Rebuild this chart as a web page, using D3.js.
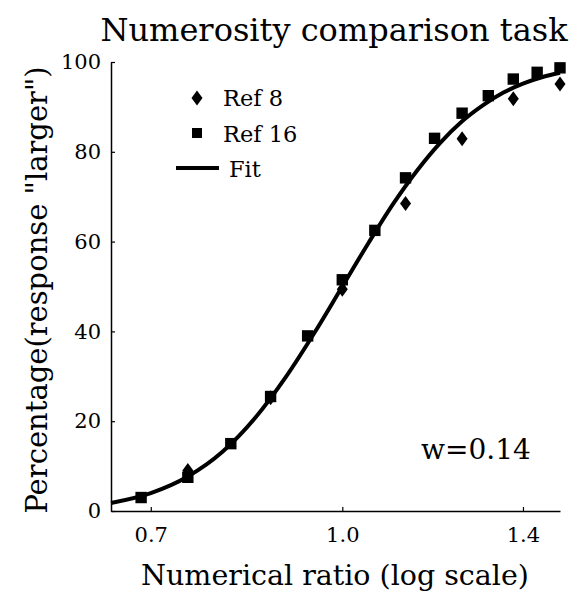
<!DOCTYPE html>
<html>
<head>
<meta charset="utf-8">
<script src="https://cdn.jsdelivr.net/npm/d3@7"></script>
<style>
  body { margin: 0; background: #fff; }
  svg { display: block; }
  text { font-family: "DejaVu Serif", serif; fill: #000; }
</style>
</head>
<body>
<svg id="chart" width="577" height="592"></svg>
<script>
// ratios (n / ref)
var ref16Ratios = [11/16, 12/16, 13/16, 14/16, 15/16, 16/16, 17/16, 18/16, 19/16, 20/16, 21/16, 22/16, 23/16, 24/16];
var ref16Values = [3, 7.5, 15, 25.5, 39, 51.5, 62.5, 74.2, 83, 88.6, 92.5, 96.2, 97.7, 98.7];

var ref8Ratios = [6/8, 7/8, 8/8, 9/8, 10/8, 11/8, 12/8];
var ref8Values = [9, 25.2, 49.4, 68.5, 82.9, 91.8, 95.1];

// fitted curve
var fitRatios = [0.65, 0.7, 0.75, 0.8, 0.85, 0.9, 0.95, 1.0, 1.05, 1.1, 1.15, 1.2, 1.25, 1.3, 1.35, 1.4, 1.45, 1.5];
var fitValues = [1.8, 4.0, 7.7, 13.2, 20.7, 29.8, 39.8, 50, 59.7, 68.5, 75.9, 82.0, 86.8, 90.4, 93.2, 95.2, 96.6, 97.6];

var xTicks = [0.7, 1.0, 1.4];
var yTicks = [0, 20, 40, 60, 80, 100];

var svg = d3.select("#chart");

var x = d3.scaleLog().domain([0.65, 1.5]).range([111, 560]);
var y = d3.scaleLinear().domain([0, 100]).range([511, 62]);

// axes
var xAxis = d3.axisBottom(x)
    .tickValues(xTicks)
    .tickFormat(d3.format(".1f"))
    .tickSizeInner(-4)
    .tickSizeOuter(0)
    .tickPadding(16);

var yAxis = d3.axisLeft(y)
    .tickValues(yTicks)
    .tickSizeInner(-4)
    .tickSizeOuter(0)
    .tickPadding(10);

var gx = svg.append("g")
    .attr("transform", "translate(0," + y(0) + ")")
    .call(xAxis);
var gy = svg.append("g")
    .attr("transform", "translate(" + x(0.65) + ",0)")
    .call(yAxis);

[gx, gy].forEach(function(g){
    g.select(".domain").attr("stroke", "#000").attr("stroke-width", 1.5);
    g.selectAll(".tick line").attr("stroke", "#000").attr("stroke-width", 1.2);
    g.selectAll(".tick text")
        .attr("font-family", "DejaVu Serif")
        .attr("font-size", 21)
        .attr("fill", "#000");
});

// fit line
var line = d3.line()
    .x(function(d){ return x(d[0]); })
    .y(function(d){ return y(d[1]); })
    .curve(d3.curveMonotoneX);

svg.append("path")
    .datum(fitRatios.map(function(r, i){ return [r, fitValues[i]]; }))
    .attr("d", line)
    .attr("fill", "none")
    .attr("stroke", "#000")
    .attr("stroke-width", 4);

// markers
var square = d3.symbol().type(d3.symbolSquare).size(130);
var diamond = "M0,-7.5 L5.5,0 L0,7.5 L-5.5,0 Z";

svg.append("g").selectAll("path")
    .data(ref8Ratios.map(function(r, i){ return [r, ref8Values[i]]; }))
    .enter().append("path")
    .attr("d", diamond)
    .attr("transform", function(d){ return "translate(" + x(d[0]) + "," + y(d[1]) + ")"; })
    .attr("fill", "#000");

svg.append("g").selectAll("path")
    .data(ref16Ratios.map(function(r, i){ return [r, ref16Values[i]]; }))
    .enter().append("path")
    .attr("d", square)
    .attr("transform", function(d){ return "translate(" + x(d[0]) + "," + y(d[1]) + ")"; })
    .attr("fill", "#000");

// legend
var legend = svg.append("g");
legend.append("path").attr("d", diamond).attr("transform", "translate(197,98)");
legend.append("text").attr("x", 223).attr("y", 106).attr("font-size", 22.5).text("Ref 8");
legend.append("path").attr("d", d3.symbol().type(d3.symbolSquare).size(100)).attr("transform", "translate(197,133)");
legend.append("text").attr("x", 223).attr("y", 142).attr("font-size", 22.5).text("Ref 16");
legend.append("line").attr("x1", 176).attr("x2", 219).attr("y1", 168).attr("y2", 168)
    .attr("stroke", "#000").attr("stroke-width", 4);
legend.append("text").attr("x", 229).attr("y", 177).attr("font-size", 22.5).text("Fit");

// annotations
svg.append("text").attr("x", 476).attr("y", 459).attr("text-anchor", "middle")
    .attr("font-size", 28).text("w=0.14");

svg.append("text").attr("x", 334).attr("y", 41).attr("text-anchor", "middle")
    .attr("font-size", 32).text("Numerosity comparison task");

svg.append("text").attr("x", 335).attr("y", 585).attr("text-anchor", "middle")
    .attr("font-size", 28.5).text("Numerical ratio (log scale)");

svg.append("text")
    .attr("transform", "translate(47,290) rotate(-90)")
    .attr("text-anchor", "middle")
    .attr("font-size", 29)
    .text("Percentage(response \"larger\")");
</script>
</body>
</html>
